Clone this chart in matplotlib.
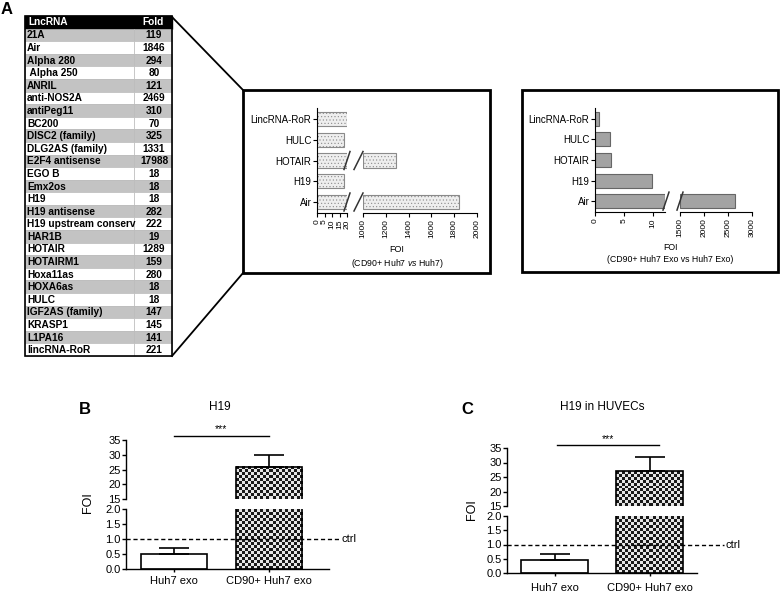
import numpy as np
import matplotlib.pyplot as plt
from matplotlib.patches import Rectangle
from matplotlib.lines import Line2D
from matplotlib.transforms import IdentityTransform
from matplotlib.colors import ListedColormap

plt.rcParams['font.family'] = ['Liberation Sans', 'DejaVu Sans']
plt.rcParams['mathtext.fontset'] = 'custom'
plt.rcParams['mathtext.it'] = 'Liberation Sans:italic'
plt.rcParams['mathtext.rm'] = 'Liberation Sans'
plt.rcParams['hatch.linewidth'] = 0.4

# panel A table
lnc_names = ['21A', 'Air', 'Alpha 280', ' Alpha 250', 'ANRIL', 'anti-NOS2A', 'antiPeg11', 'BC200',
             'DISC2 (family)', 'DLG2AS (family)', 'E2F4 antisense', 'EGO B', 'Emx2os', 'H19',
             'H19 antisense', 'H19 upstream conserv', 'HAR1B', 'HOTAIR', 'HOTAIRM1', 'Hoxa11as',
             'HOXA6as', 'HULC', 'IGF2AS (family)', 'KRASP1', 'L1PA16', 'lincRNA-RoR']
lnc_fold = [119, 1846, 294, 80, 121, 2469, 310, 70, 325, 1331, 17988, 18, 18, 18,
            282, 222, 19, 1289, 159, 280, 18, 18, 147, 145, 141, 221]

# panel A bar charts (bottom -> top)
bar_names = ['Air', 'H19', 'HOTAIR', 'HULC', 'LincRNA-RoR']
cell_foi = [1846, 18, 1289, 18, 221]
exo_foi = [2650, 9.8, 2.7, 2.6, 0.75]
cell_ticks_lo = [0, 5, 10, 15, 20]
cell_ticks_hi = [1000, 1200, 1400, 1600, 1800, 2000]
exo_ticks_lo = [0, 5, 10]
exo_ticks_hi = [1500, 2000, 2500, 3000]

# panels B and C
groups = ['Huh7 exo', 'CD90+ Huh7 exo']
b_mean = [0.5, 26]
b_err = [0.2, 4]
c_mean = [0.47, 27]
c_err = [0.2, 5]

W, H = 780, 595
fig = plt.figure(figsize=(7.8, 5.95), dpi=100)


def px_axes(x0, y0, x1, y1):
    return fig.add_axes([x0 / W, 1 - y1 / H, (x1 - x0) / W, (y1 - y0) / H])


# overlay in pixel coords for table, frames and labels
ax0 = fig.add_axes([0, 0, 1, 1])
ax0.set_xlim(0, W)
ax0.set_ylim(H, 0)
ax0.axis('off')

tx0, tx1, tdiv = 25, 172, 134
ty0, ty1 = 16, 356
rh = (ty1 - ty0) / (len(lnc_names) + 1)
tfs = 7.3
ax0.add_patch(Rectangle((tx0, ty0), tx1 - tx0, rh, color='black'))
ax0.text(tx0 + 3, ty0 + rh / 2, 'LncRNA', color='white', fontsize=tfs, fontweight='bold', va='center')
ax0.text((tdiv + tx1) / 2, ty0 + rh / 2, 'Fold', color='white', fontsize=tfs, fontweight='bold',
         va='center', ha='center')
for i, (nm, fv) in enumerate(zip(lnc_names, lnc_fold)):
    top = ty0 + rh * (i + 1)
    fc = '#c3c3c3' if i % 2 == 0 else 'white'
    ax0.add_patch(Rectangle((tx0, top), tdiv - tx0, rh, facecolor=fc, edgecolor='#bbbbbb', lw=0.5))
    ax0.add_patch(Rectangle((tdiv, top), tx1 - tdiv, rh, facecolor=fc, edgecolor='#bbbbbb', lw=0.5))
    t = ax0.text(tx0 + 2, top + rh / 2 + 0.5, nm, fontsize=tfs, fontweight='bold', va='center')
    t.set_clip_path(Rectangle((tx0, top), tdiv - tx0 - 1, rh, transform=ax0.transData))
    ax0.text((tdiv + tx1) / 2 + 1, top + rh / 2 + 0.5, str(fv), fontsize=tfs, fontweight='bold',
             va='center', ha='center')
ax0.add_patch(Rectangle((tx0, ty0), tx1 - tx0, ty1 - ty0, fill=False, edgecolor='black', lw=1.2))

# zoom frames
ax0.add_patch(Rectangle((243, 90), 247, 183, fill=False, edgecolor='black', lw=2))
ax0.add_patch(Rectangle((522, 90), 256, 182, fill=False, edgecolor='black', lw=2))
ax0.plot([tx1, 243], [ty0 + 1, 90], color='black', lw=1.3)
ax0.plot([tx1, 243], [ty1, 273], color='black', lw=1.3)

# panel letters and titles
ax0.text(7, 10, 'A', fontsize=12, fontweight='bold', ha='center', va='center')
ax0.text(85, 409, 'B', fontsize=12, fontweight='bold', ha='center', va='center')
ax0.text(467, 409, 'C', fontsize=12, fontweight='bold', ha='center', va='center')
ax0.text(220, 407, 'H19', fontsize=8.5, ha='center', va='center')
ax0.text(602, 407, 'H19 in HUVECs', fontsize=8.5, ha='center', va='center')
ax0.text(397, 250, 'FOI', fontsize=6.5, ha='center', va='center')
ax0.text(397, 263, '(CD90+ Huh7 $\\it{vs}$ Huh7)', fontsize=6.3, ha='center', va='center')
ax0.text(670, 247, 'FOI', fontsize=6.3, ha='center', va='center')
ax0.text(670, 259, '(CD90+ Huh7 Exo vs Huh7 Exo)', fontsize=6.3, ha='center', va='center')
ax0.text(88, 503, 'FOI', fontsize=9, rotation=90, ha='center', va='center')
ax0.text(472, 510, 'FOI', fontsize=9, rotation=90, ha='center', va='center')


def slash(x0, y0, x1, y1):
    fig.add_artist(Line2D([x0, x1], [y0, y1], transform=IdentityTransform(), color='#333333', lw=1.1))


def broken_barh(box_lo, box_hi, lim_lo, lim_hi, vals, ticks_lo, ticks_hi, style, offs):
    ax1 = px_axes(*box_lo)
    ax2 = px_axes(*box_hi)
    pos = np.arange(len(vals))
    vals = np.array(vals, dtype=float)
    ax1.barh(pos, np.minimum(vals, lim_lo[1]), height=0.68, **style)
    big = vals > lim_hi[0]
    ax2.barh(pos[big], vals[big] - lim_hi[0], left=lim_hi[0], height=0.68, **style)
    for ax in (ax1, ax2):
        ax.set_facecolor('none')
        ax.set_ylim(-0.53, len(vals) - 0.47)
        for s in ('top', 'right'):
            ax.spines[s].set_visible(False)
        ax.tick_params(axis='x', labelsize=6, rotation=90, length=3, width=0.8, pad=1.5)
    ax1.set_xlim(*lim_lo)
    ax2.set_xlim(*lim_hi)
    ax1.set_xticks(ticks_lo)
    ax2.set_xticks(ticks_hi)
    ax1.set_yticks(pos, bar_names)
    ax1.tick_params(axis='y', labelsize=7, length=3, width=0.8, pad=1)
    ax2.spines['left'].set_visible(False)
    ax2.set_yticks([])
    # break marks across the gap
    for p in pos[big]:
        xe, yc = ax1.transData.transform((lim_lo[1], p))
        xs = ax2.transData.transform((lim_hi[0], p))[0]
        slash(xe + offs[0], yc - 9, xe + offs[1], yc + 9)
        slash(xs + offs[2], yc - 9, xs + offs[3], yc + 9)


broken_barh((317, 108, 347, 213), (363, 108, 477, 213), (0, 20), (1000, 2000), cell_foi,
            cell_ticks_lo, cell_ticks_hi,
            dict(facecolor='#eeeeee', edgecolor='#8a8a8a', hatch='.....', lw=0.8), (-3, 3, -9, 0))
broken_barh((595, 108, 665, 212), (680, 108, 752, 212), (0, 12), (1500, 3000), exo_foi,
            exo_ticks_lo, exo_ticks_hi,
            dict(facecolor='#a3a3a3', edgecolor='#666666', lw=0.8), (-2, 4, -3, 3))

checker_cmap = ListedColormap(['#1a1a1a', '#e6e6e6'])


def checker_fill(ax, x, w, top, cell_px=3):
    y0, y1 = ax.get_ylim()
    lo, hi = max(y0, 0), min(y1, top)
    if hi <= lo:
        return
    p0 = ax.transData.transform((x - w / 2, lo))
    p1 = ax.transData.transform((x + w / 2, hi))
    nx = max(1, int(round((p1[0] - p0[0]) / cell_px)))
    ny = max(1, int(round((p1[1] - p0[1]) / cell_px)))
    tex = np.add.outer(np.arange(ny), np.arange(nx)) % 2
    ax.imshow(tex, cmap=checker_cmap, vmin=0, vmax=1, extent=(x - w / 2, x + w / 2, lo, hi),
              aspect='auto', interpolation='nearest', zorder=1)


def broken_column(box_hi, box_lo, xlim, means, errs, sig_x, sig_y, ctrl_x, label_pad):
    ax_hi = px_axes(*box_hi)
    ax_lo = px_axes(*box_lo)
    x = np.arange(len(means))
    width = 0.7
    for ax, ylim in ((ax_hi, (15, 35)), (ax_lo, (0, 2))):
        ax.set_facecolor('none')
        ax.set_xlim(*xlim)
        ax.set_ylim(*ylim)
        ax.set_autoscale_on(False)
        checker_fill(ax, x[1], width, means[1])
        ax.bar(x, means, width, facecolor='none', edgecolor='black', lw=1.2, zorder=2)
        ax.errorbar(x, means, yerr=[[0] * len(errs), errs], fmt='none', ecolor='black',
                    elinewidth=1.2, capsize=11, capthick=1.2, zorder=1.5)
        for s in ('top', 'right'):
            ax.spines[s].set_visible(False)
        ax.spines['left'].set_linewidth(1.0)
        ax.tick_params(axis='y', labelsize=8, length=3, width=1.0, pad=1)
        ax.set_xlim(*xlim)
        ax.set_ylim(*ylim)
    ax_hi.spines['bottom'].set_visible(False)
    ax_hi.set_xticks([])
    ax_hi.set_yticks([15, 20, 25, 30, 35])
    ax_lo.set_yticks([0, 0.5, 1.0, 1.5, 2.0], ['0.0', '0.5', '1.0', '1.5', '2.0'])
    ax_lo.spines['bottom'].set_linewidth(1.0)
    ax_lo.set_xticks(x, groups)
    ax_lo.tick_params(axis='x', labelsize=8, length=2.5, width=1.0, pad=label_pad)
    ax_lo.plot([xlim[0], ctrl_x], [1, 1], color='black', lw=1, dashes=(3, 2), clip_on=False, zorder=3)
    ax_lo.text(ctrl_x + 0.02, 1, 'ctrl', fontsize=8, va='center', ha='left')
    ax_hi.plot(sig_x, [sig_y, sig_y], color='black', lw=1, clip_on=False)
    ax_hi.text(np.mean(sig_x), sig_y + 0.5, '***', fontsize=7.5, ha='center', va='bottom')


broken_column((126, 440, 329, 499), (126, 509, 329, 569), (-0.51, 1.64), b_mean, b_err,
              [0, 1], 36.4, 1.75, 2.5)
broken_column((507, 448, 697, 506), (507, 516, 697, 573), (-0.5, 1.5), c_mean, c_err,
              [0.03, 1.1], 36.0, 1.78, 5)

fig.savefig('out.png', dpi=100)
